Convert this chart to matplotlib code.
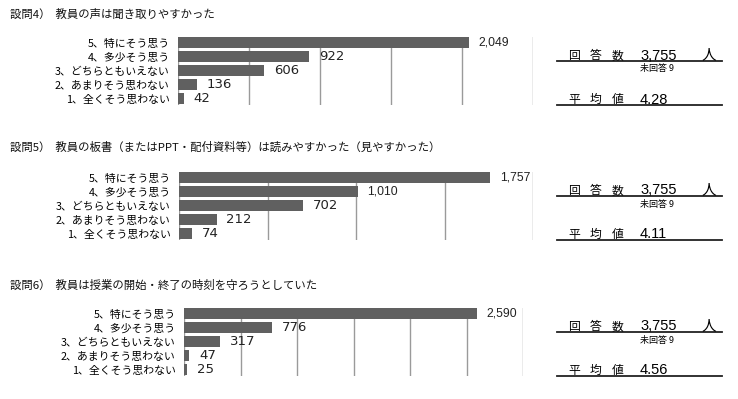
import matplotlib
matplotlib.use("Agg")
import matplotlib.pyplot as plt

plt.rcParams['font.family'] = ['Noto Sans CJK JP', 'DejaVu Sans']

W, H = 738, 399

categories = ['1、全くそう思わない', '2、あまりそう思わない', '3、どちらともいえない',
              '4、多少そう思う', '5、特にそう思う']
titles = ['設問4）  教員の声は聞き取りやすかった',
          '設問5）  教員の板書（またはPPT・配付資料等）は読みやすかった（見やすかった）',
          '設問6）  教員は授業の開始・終了の時刻を守ろうとしていた']
q4_counts = [42, 136, 606, 922, 2049]
q5_counts = [74, 212, 702, 1010, 1757]
q6_counts = [25, 47, 317, 776, 2590]
xmax = [2500, 2000, 3000]
respondents = ['3,755', '3,755', '3,755']
no_answer = [9, 9, 9]
averages = ['4.28', '4.11', '4.56']

# pixel layout: (axes left, right, top, bottom, title y)
layout = [(178, 533, 37, 105, 14),
          (179, 533, 172, 240, 147),
          (184, 523, 308, 376, 285)]

fig = plt.figure(figsize=(W / 100, H / 100), dpi=100)
over = fig.add_axes([0, 0, 1, 1])
over.set_xlim(0, W)
over.set_ylim(H, 0)
over.axis('off')

bar_color = '#606060'
grid_color = '#9a9a9a'

for i, counts in enumerate([q4_counts, q5_counts, q6_counts]):
    l, r, t, b, ty = layout[i]
    ax = fig.add_axes([l / W, 1 - b / H, (r - l) / W, (b - t) / H])
    ax.barh(range(5), counts, height=0.78, color=bar_color, zorder=2)
    ax.set_xlim(0, xmax[i])
    ax.set_ylim(-0.47, 4.42)
    for gx in range(0, xmax[i] + 1, 500):
        ax.axvline(gx, color=grid_color, lw=1.0, zorder=1)
    for s in ax.spines.values():
        s.set_visible(False)
    ax.set_xticks([])
    ax.set_yticks(range(5))
    ax.set_yticklabels(categories, fontsize=7.8)
    ax.tick_params(axis='y', length=0, pad=6)
    for k, v in enumerate(counts):
        big = v >= 1000
        ax.annotate(f'{v:,}', (v, k), xytext=(7, 0), textcoords='offset points',
                    va='center', ha='left', fontsize=8.8 if big else 9.5,
                    color='#222222',
                    family=['Liberation Sans'] if big else ['DejaVu Sans'])
    # title
    over.text(10, ty, titles[i], fontsize=8.2, va='center', ha='left', color='#111111')
    # summary table
    y1 = t + 24
    for ch, cx in zip('回答数', [568, 590, 612]):
        over.text(cx, y1 - 2, ch, fontsize=8.5, va='baseline', ha='left')
    over.text(640, y1 - 1.5, respondents[i], fontsize=10.5, va='baseline', ha='left',
              family=['Liberation Sans'])
    over.text(702, y1 - 1.5, '人', fontsize=10.5, va='baseline', ha='left')
    over.plot([557, 722], [y1, y1], color='#222222', lw=1.3)
    over.text(640, y1 + 8, f'未回答 {no_answer[i]}', fontsize=6.5, va='center', ha='left')
    over.plot([557, 722], [b, b], color='#222222', lw=1.3)
    for ch, cx in zip('平均値', [568, 590, 612]):
        over.text(cx, b - 2, ch, fontsize=8.5, va='baseline', ha='left')
    over.text(640, b - 1.5, averages[i], fontsize=10.5, va='baseline', ha='left',
              family=['Liberation Sans'])

fig.savefig('out.png', dpi=100)
